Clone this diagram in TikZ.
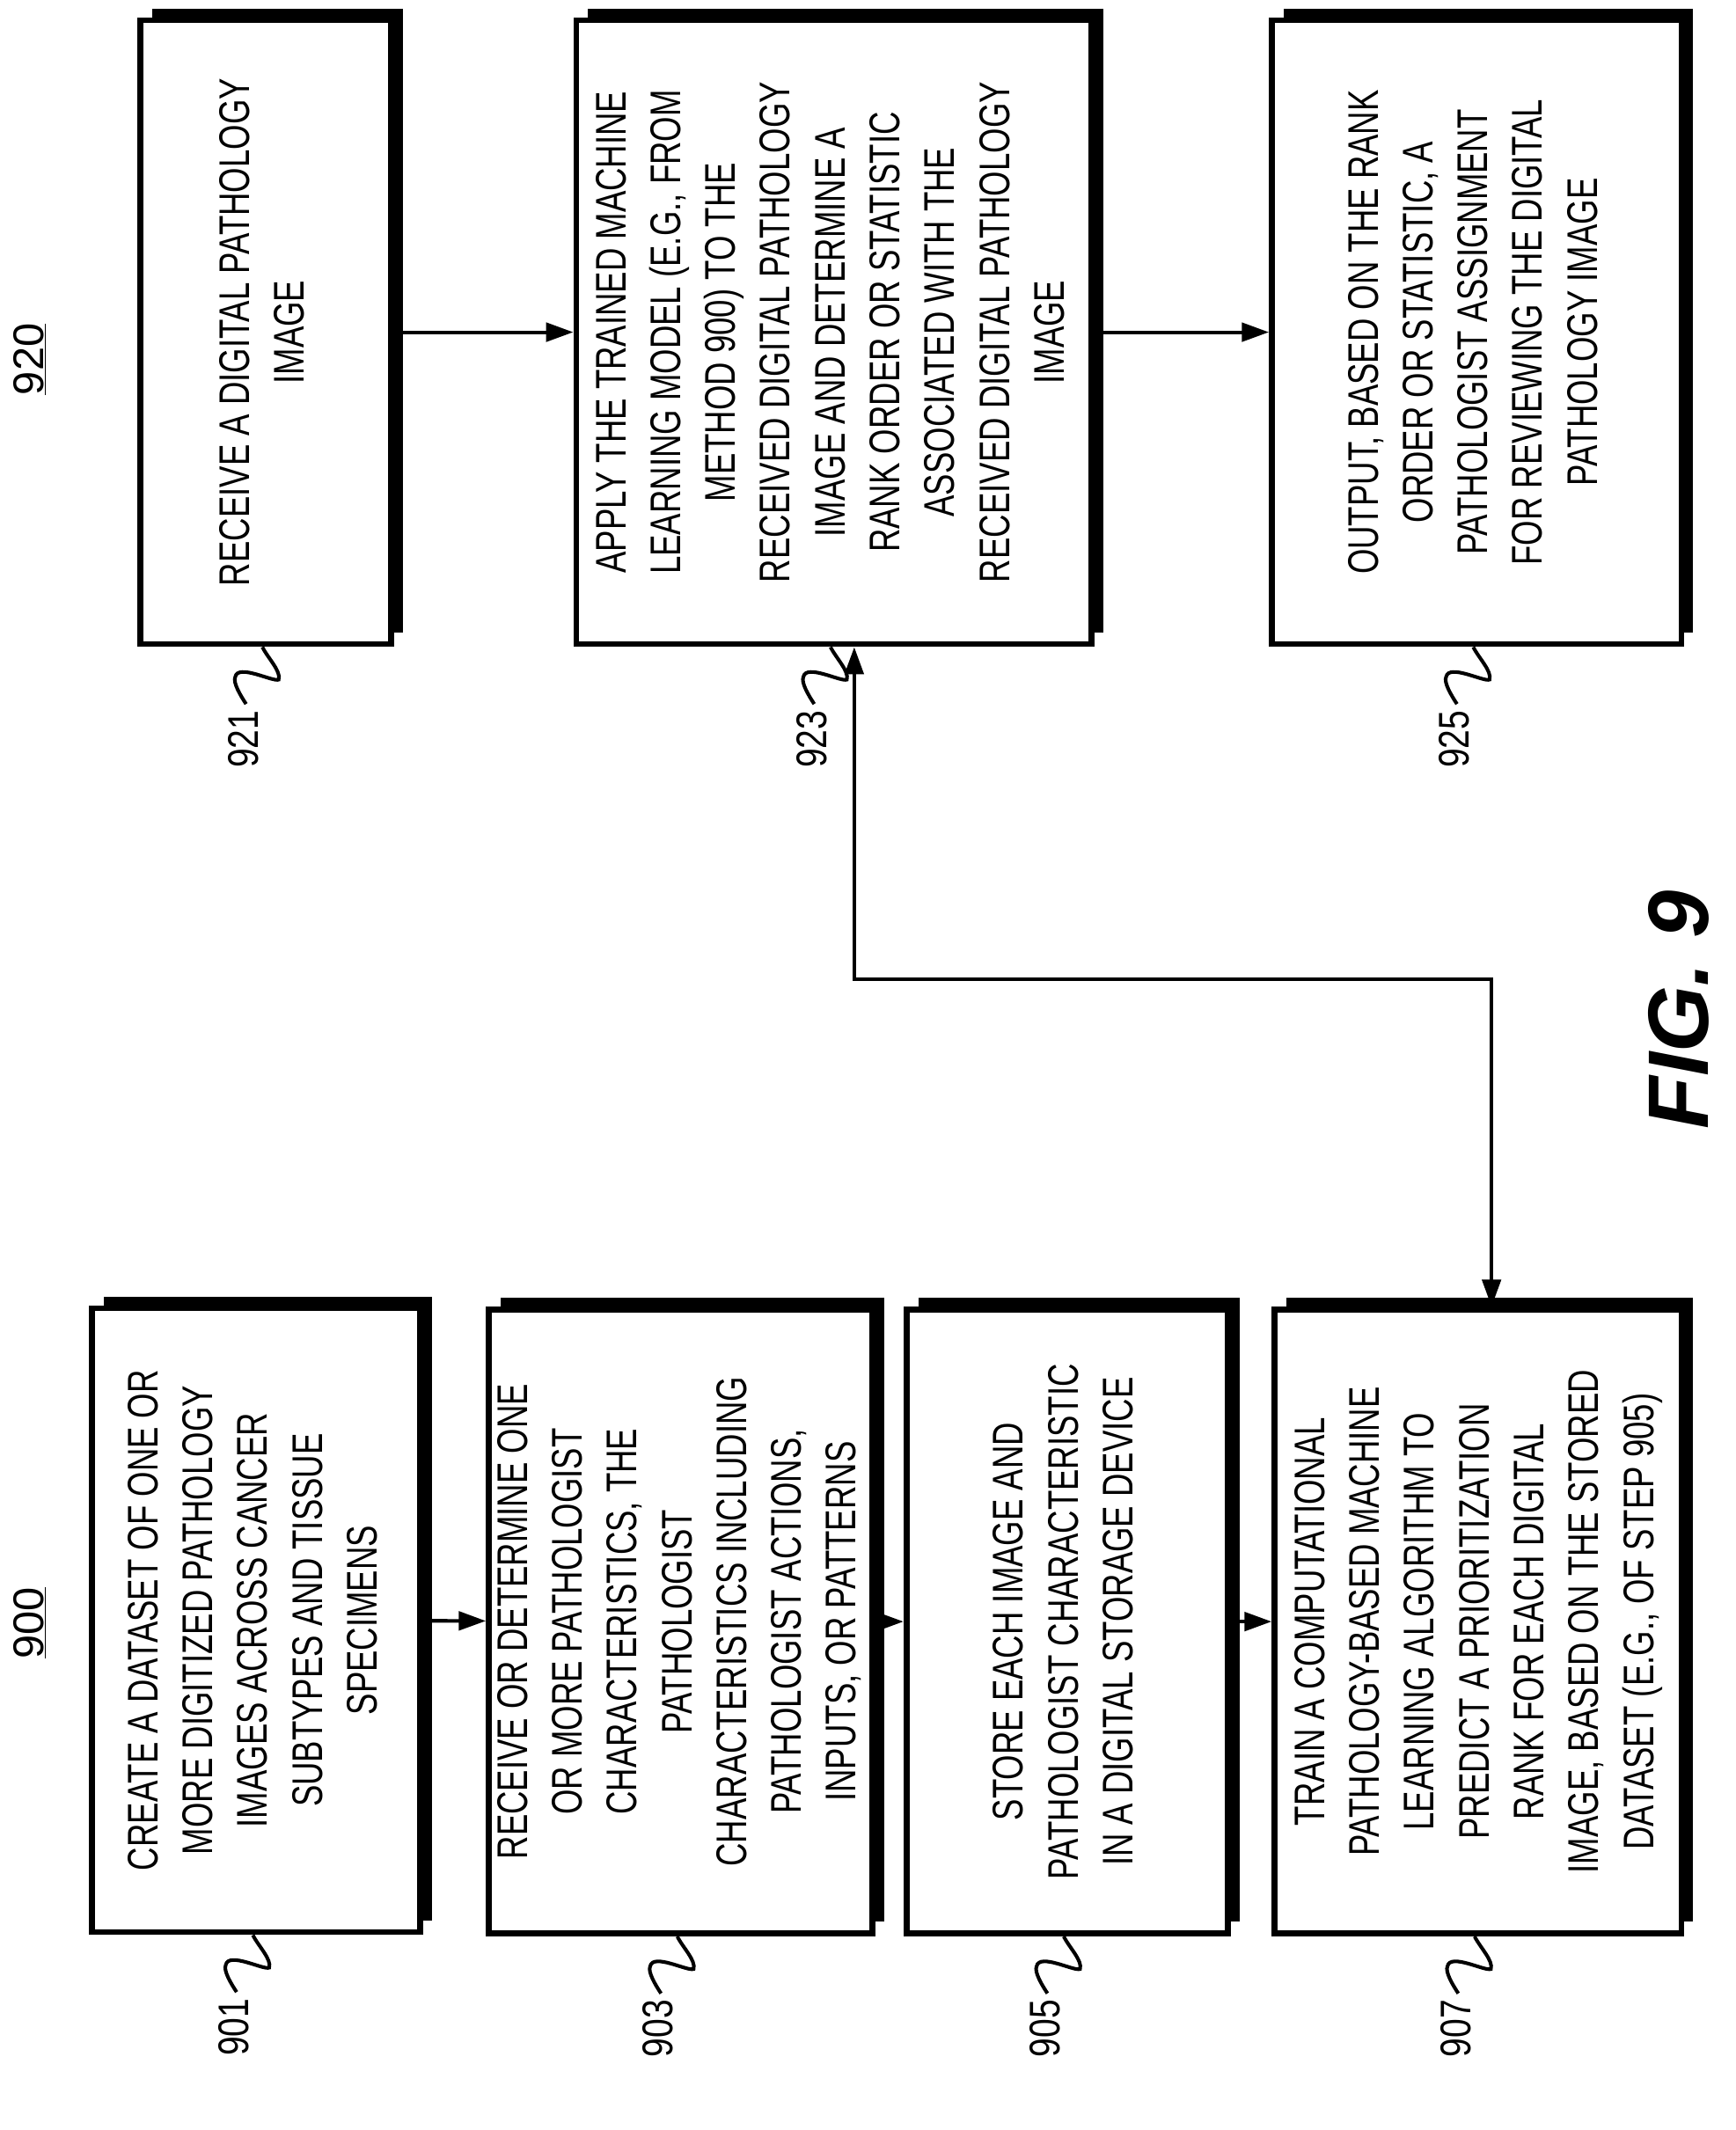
\documentclass[tikz,border=0pt]{standalone}
\usepackage{fontspec}
\setmainfont{Liberation Sans}
\usetikzlibrary{arrows.meta,shadows,calc}

\newcommand{\steptext}[1]{\rotatebox{90}{\scalebox{0.75}[1]{\fontsize{36}{46}\selectfont\begin{tabular}{c}#1\end{tabular}}}}

\begin{document}
\begin{tikzpicture}[x=0.04cm, y=-0.04cm,
    step/.style={draw, line width=5pt, fill=white, inner sep=0pt,
                 minimum width=#1*0.04cm, minimum height=18.4cm,
                 general shadow={fill=black, shadow xshift=10pt, shadow yshift=10pt}},
    arr/.style={-{Triangle[length=0.8cm,width=0.55cm]}, line width=3pt},
    squig/.style={line width=3pt},
    refnum/.style={rotate=90, font=\fontsize{36}{36}\selectfont},
]
\useasboundingbox (0,0) rectangle (1280,1571);

% method 920
\node[step=185] (b921) at (196,245) {\steptext{RECEIVE A DIGITAL PATHOLOGY\\IMAGE}};
\node[step=380] (b923) at (615,245) {\steptext{APPLY THE TRAINED MACHINE\\LEARNING MODEL (E.G., FROM\\METHOD 900) TO THE\\RECEIVED DIGITAL PATHOLOGY\\IMAGE AND DETERMINE A\\RANK ORDER OR STATISTIC\\ASSOCIATED WITH THE\\RECEIVED DIGITAL PATHOLOGY\\IMAGE}};
\node[step=302] (b925) at (1089,245) {\steptext{OUTPUT, BASED ON THE RANK\\ORDER OR STATISTIC, A\\PATHOLOGIST ASSIGNMENT\\FOR REVIEWING THE DIGITAL\\PATHOLOGY IMAGE}};

% method 900
\node[step=242] (b901) at (189,1195) {\steptext{CREATE A DATASET OF ONE OR\\MORE DIGITIZED PATHOLOGY\\IMAGES ACROSS CANCER\\SUBTYPES AND TISSUE\\SPECIMENS}};
\node[step=267] (b903) at (502,1196) {\steptext{RECEIVE OR DETERMINE ONE\\OR MORE PATHOLOGIST\\CHARACTERISTICS, THE\\PATHOLOGIST\\CHARACTERISTICS INCLUDING\\PATHOLOGIST ACTIONS,\\INPUTS, OR PATTERNS}};
\node[step=237] (b905) at (787,1196) {\steptext{STORE EACH IMAGE AND\\PATHOLOGIST CHARACTERISTIC\\IN A DIGITAL STORAGE DEVICE}};
\node[step=300] (b907) at (1090,1196) {\steptext{TRAIN A COMPUTATIONAL\\PATHOLOGY-BASED MACHINE\\LEARNING ALGORITHM TO\\PREDICT A PRIORITIZATION\\RANK FOR EACH DIGITAL\\IMAGE, BASED ON THE STORED\\DATASET (E.G., OF STEP 905)}};

\draw[arr] (b921) -- (b923);
\draw[arr] (b923) -- (b925);
\draw[arr] (b901) -- (b903);
\draw[arr] (b903) -- (b905);
\draw[arr] (b905) -- (b907);

% feedback from training to application
\coordinate (fb) at (865,722);
\draw[arr, {Triangle[length=0.8cm,width=0.55cm]}-{Triangle[length=0.8cm,width=0.55cm]}]
    ([xshift=0.6cm]b923.south) |- (fb) -| ([xshift=0.4cm]b907.north);

% reference numerals
\foreach \b in {921,923,925,901,903,905,907} {
    \coordinate (s) at ([xshift=-0.1cm]b\b.south);
    \draw[squig] (s) .. controls ($(s)+(4,8)$) and ($(s)+(14,18)$) .. ($(s)+(12,24)$)
        .. controls ($(s)+(8,26)$) and ($(s)+(-18,12)$) .. ($(s)+(-20,22)$)
        .. controls ($(s)+(-22,26)$) and ($(s)+(-16,36)$) .. ($(s)+(-12,42)$);
    \node[refnum] at ($(s)+(-14,68)$) {\scalebox{0.8}[1]{\b}};
}

\node[refnum] (t920) at (22,265) {\underline{920}};
\node[refnum] (t900) at (22,1197) {\underline{900}};
\node[rotate=90, font=\bfseries\itshape\fontsize{72}{72}\selectfont] (fig) at (1238,745) {FIG. 9};
\end{tikzpicture}
\end{document}
